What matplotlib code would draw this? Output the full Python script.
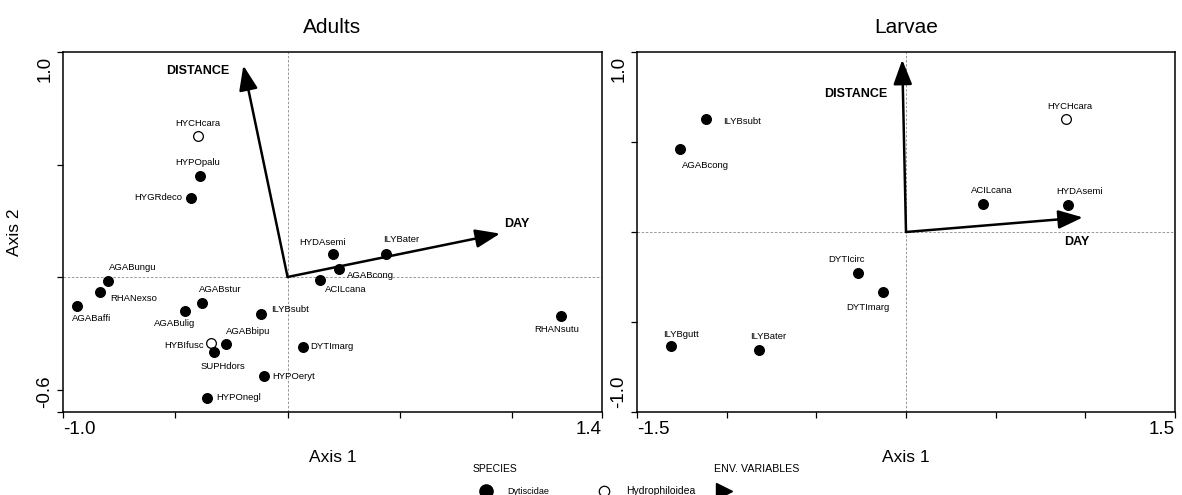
#!/usr/bin/env python3
"""Ordination biplots (adults vs larvae) with species scores and env. arrows."""

import matplotlib

matplotlib.use("Agg")
import matplotlib.pyplot as plt
from matplotlib.lines import Line2D

plt.rcParams["font.family"] = ["Liberation Sans", "DejaVu Sans"]

# --- Adults: species scores (axis 1, axis 2); "D" = Dytiscidae, "H" = Hydrophiloidea
ADULT_SPECIES = [
    "HYCHcara", "HYPOpalu", "HYGRdeco", "AGABungu", "RHANexso", "AGABaffi",
    "AGABstur", "AGABulig", "ILYBsubt", "AGABbipu", "HYBIfusc", "SUPHdors",
    "DYTImarg", "HYPOeryt", "HYPOnegl", "HYDAsemi", "ILYBater", "AGABcong",
    "ACILcana", "RHANsutu",
]
ADULT_X = [-0.40, -0.389, -0.429, -0.801, -0.837, -0.938, -0.380, -0.458, -0.118,
           -0.274, -0.342, -0.329, 0.067, -0.105, -0.360, 0.201, 0.438, 0.227,
           0.146, 1.216]
ADULT_Y = [0.628, 0.450, 0.353, -0.018, -0.065, -0.129, -0.117, -0.151, -0.166,
           -0.297, -0.292, -0.334, -0.310, -0.438, -0.537, 0.101, 0.101, 0.037,
           -0.013, -0.174]
ADULT_GROUP = ["H", "D", "D", "D", "D", "D", "D", "D", "D", "D", "H", "D",
               "D", "D", "D", "D", "D", "D", "D", "D"]

# --- Larvae
LARVAE_SPECIES = ["ILYBsubt", "AGABcong", "DYTIcirc", "DYTImarg", "ILYBgutt",
                  "ILYBater", "HYCHcara", "ACILcana", "HYDAsemi"]
LARVAE_X = [-1.114, -1.258, -0.267, -0.129, -1.310, -0.821, 0.891, 0.431, 0.906]
LARVAE_Y = [0.628, 0.461, -0.228, -0.333, -0.632, -0.654, 0.629, 0.157, 0.152]
LARVAE_GROUP = ["D", "D", "D", "D", "D", "D", "H", "D", "D"]

# --- Environmental variables (arrow tips)
ENV_NAMES = ["DISTANCE", "DAY"]
ADULT_ENV_X = [-0.197, 0.946]
ADULT_ENV_Y = [0.940, 0.193]
LARVAE_ENV_X = [-0.021, 0.986]
LARVAE_ENV_Y = [0.957, 0.081]

# label offsets in pixels (dx, dy up, ha)
ADULT_LABEL_OFFSETS = {
    "HYCHcara": (0, 12, "center"), "HYPOpalu": (-2.5, 13, "center"),
    "HYGRdeco": (-8.5, 0, "right"), "AGABungu": (1.3, 13.3, "left"),
    "RHANexso": (10.3, -7, "left"), "AGABaffi": (-5.3, -12.7, "left"),
    "AGABstur": (-3.3, 14, "left"), "AGABulig": (10.3, -12.7, "right"),
    "ILYBsubt": (9.7, 5, "left"), "AGABbipu": (-0.3, 12, "left"),
    "HYBIfusc": (-6.7, -2.3, "right"), "SUPHdors": (-12.7, -14, "left"),
    "DYTImarg": (8, 0, "left"), "HYPOeryt": (8.7, -0.7, "left"),
    "HYPOnegl": (9.3, 0, "left"), "HYDAsemi": (-10, 11.6, "center"),
    "ILYBater": (15.7, 15, "center"), "AGABcong": (8, -7.3, "left"),
    "ACILcana": (4.7, -9.3, "left"), "RHANsutu": (-4, -13.3, "center"),
}
LARVAE_LABEL_OFFSETS = {
    "ILYBsubt": (16.6, -2.4, "left"), "AGABcong": (1.7, -16.4, "left"),
    "DYTIcirc": (-11.2, 13.3, "center"), "DYTImarg": (-14.5, -16, "center"),
    "ILYBgutt": (10.3, 11, "center"), "ILYBater": (9.7, 13.3, "center"),
    "HYCHcara": (3.7, 12.3, "center"), "ACILcana": (8.3, 13.3, "center"),
    "HYDAsemi": (11, 12.7, "center"),
}
ADULT_ENV_OFFSETS = {"DISTANCE": (-45.5, -6), "DAY": (16.7, 10)}
LARVAE_ENV_OFFSETS = {"DISTANCE": (-46, -34.3), "DAY": (-5.8, -24.6)}

W, H, DPI = 1182, 495, 100


def draw_panel(ax, title, names, xs, ys, groups, offsets, env_x, env_y,
               env_offsets, xlim, ylim, xticks, yticks):
    ax.axhline(0, color="#888888", lw=0.6, ls=(0, (3, 2)), zorder=1)
    ax.axvline(0, color="#888888", lw=0.6, ls=(0, (3, 2)), zorder=1)

    for name, x, y, g in zip(names, xs, ys, groups):
        face = "black" if g == "D" else "white"
        ax.plot(x, y, "o", ms=7, mfc=face, mec="black", mew=0.9, zorder=4)
        dx, dy, ha = offsets[name]
        ax.annotate(name, (x, y), xytext=(dx, dy), textcoords="offset pixels",
                    ha=ha, va="center", fontsize=6.8, zorder=5)

    for name, x, y in zip(ENV_NAMES, env_x, env_y):
        ax.annotate("", xy=(x, y), xytext=(0, 0),
                    arrowprops=dict(arrowstyle="-|>,head_length=1.0,head_width=0.38",
                                    mutation_scale=15, lw=1.8, color="black",
                                    shrinkA=0, shrinkB=0), zorder=3)
        dx, dy = env_offsets[name]
        ax.annotate(name, (x, y), xytext=(dx, dy), textcoords="offset pixels",
                    ha="center", va="center", fontsize=9, fontweight="bold")

    ax.set_xlim(*xlim)
    ax.set_ylim(*ylim)
    ax.set_xticks(xticks)
    ax.set_yticks(yticks)
    ax.set_xticklabels([])
    ax.set_yticklabels([])
    ax.tick_params(length=4, width=0.9, direction="out")
    for sp in ax.spines.values():
        sp.set_linewidth(1.1)

    ax.set_title(title, fontsize=15, pad=14)
    ax.set_xlabel("Axis 1", fontsize=12.5, labelpad=20)

    # axis extent labels
    ax.text(0, -0.025, f"{xlim[0]:.1f}", transform=ax.transAxes, ha="left",
            va="top", fontsize=13.5)
    ax.text(1, -0.025, f"{xlim[1]:.1f}", transform=ax.transAxes, ha="right",
            va="top", fontsize=13.5)
    ax.text(-0.018, 0.99, f"{ylim[1]:.1f}", transform=ax.transAxes, ha="right",
            va="top", rotation=90, fontsize=13.5)
    ax.text(-0.018, 0.01, f"{ylim[0]:.1f}", transform=ax.transAxes, ha="right",
            va="bottom", rotation=90, fontsize=13.5)


def main():
    fig = plt.figure(figsize=(W / DPI, H / DPI), dpi=DPI)
    bottom, height = (H - 412) / H, 360 / H
    ax1 = fig.add_axes([63 / W, bottom, 539 / W, height])
    ax2 = fig.add_axes([637 / W, bottom, 538 / W, height])

    draw_panel(ax1, "Adults", ADULT_SPECIES, ADULT_X, ADULT_Y, ADULT_GROUP,
               ADULT_LABEL_OFFSETS, ADULT_ENV_X, ADULT_ENV_Y, ADULT_ENV_OFFSETS,
               (-1.0, 1.4), (-0.6, 1.0), [-1.0, -0.5, 0, 0.5, 1.0, 1.4],
               [-0.6, -0.5, 0, 0.5, 1.0])
    ax1.set_ylabel("Axis 2", fontsize=12.5, labelpad=22)

    draw_panel(ax2, "Larvae", LARVAE_SPECIES, LARVAE_X, LARVAE_Y, LARVAE_GROUP,
               LARVAE_LABEL_OFFSETS, LARVAE_ENV_X, LARVAE_ENV_Y, LARVAE_ENV_OFFSETS,
               (-1.5, 1.5), (-1.0, 1.0), [-1.5, -1.0, -0.5, 0, 0.5, 1.0, 1.5],
               [-1.0, -0.5, 0, 0.5, 1.0])

    # legend strip along the bottom, laid out in pixel coordinates
    lax = fig.add_axes([0, 0, 1, 1], zorder=-1)
    lax.set_xlim(0, W)
    lax.set_ylim(H, 0)
    lax.axis("off")
    lax.text(473, 469, "SPECIES", fontsize=7.5, va="center", ha="left")
    lax.text(714, 469, "ENV. VARIABLES", fontsize=7.7, va="center", ha="left")
    lax.add_line(Line2D([486], [491], marker="o", ms=9.5, mfc="black",
                        mec="black", ls="none"))
    lax.text(507, 491, "Dytiscidae", fontsize=6.5, va="center", ha="left")
    lax.add_line(Line2D([604], [491], marker="o", ms=7.5, mfc="white",
                        mec="black", mew=0.9, ls="none"))
    lax.text(626, 491, "Hydrophiloidea", fontsize=7.5, va="center", ha="left")
    lax.add_line(Line2D([724], [491], marker=">", ms=11, mfc="black",
                        mec="black", ls="none"))

    fig.savefig("out.png", dpi=DPI)
    plt.close(fig)


if __name__ == "__main__":
    main()
